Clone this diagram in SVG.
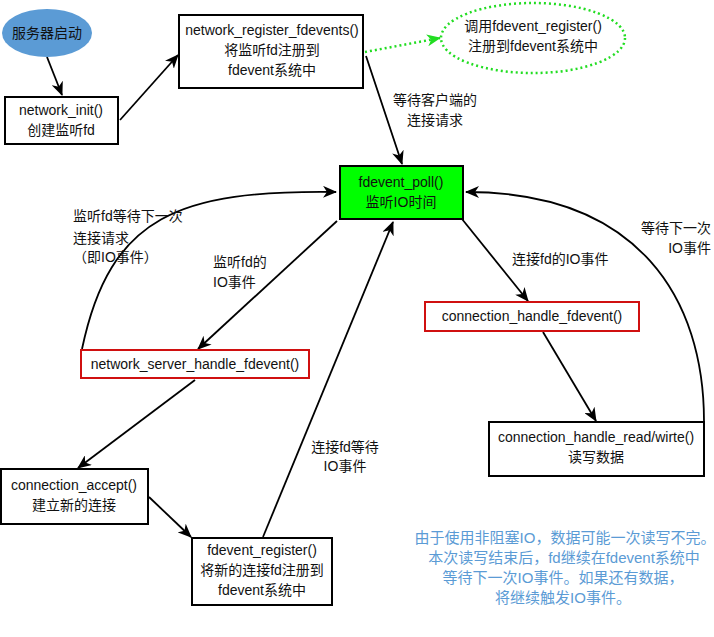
<svg xmlns="http://www.w3.org/2000/svg" width="714" height="637" viewBox="0 0 714 637">
<defs>
<style>
text{font-family:"Liberation Sans","Noto Sans CJK SC",sans-serif;font-size:14px;fill:#111}
.c{text-anchor:middle}
.r{text-anchor:end}
.box{fill:#fff;stroke:#000;stroke-width:2}
.red{fill:#fff;stroke:#d01010;stroke-width:2}
.ln{fill:none;stroke:#000;stroke-width:1.8}
.note{fill:#5b9bd5;font-size:15px}
</style>
<marker id="ah" viewBox="0 0 14 12" refX="13" refY="6" markerWidth="14" markerHeight="12" markerUnits="userSpaceOnUse" orient="auto">
<path d="M0,0 L14,6 L0,12 L4,6 z" fill="#000"/>
</marker>
<marker id="ahg" viewBox="0 0 14 12" refX="13" refY="6" markerWidth="14" markerHeight="12" markerUnits="userSpaceOnUse" orient="auto">
<path d="M0,0 L14,6 L0,12 L4,6 z" fill="#22dd22"/>
</marker>
</defs>
<rect width="714" height="637" fill="#fff"/>

<g id="connectors">
<line class="ln" x1="47" y1="57" x2="62" y2="95" marker-end="url(#ah)"/>
<line class="ln" x1="120" y1="120" x2="178" y2="55" marker-end="url(#ah)"/>
<line x1="365" y1="52" x2="440" y2="38" fill="none" stroke="#22dd22" stroke-width="2.5" stroke-dasharray="2,3" marker-end="url(#ahg)"/>
<line class="ln" x1="366" y1="56" x2="402" y2="164" marker-end="url(#ah)"/>
<line class="ln" x1="337" y1="221" x2="198" y2="349" marker-end="url(#ah)"/>
<path class="ln" d="M82,349 C110,215 180,190 336,192" marker-end="url(#ah)"/>
<line class="ln" x1="195" y1="380" x2="78" y2="468" marker-end="url(#ah)"/>
<line class="ln" x1="149" y1="497" x2="191" y2="537" marker-end="url(#ah)"/>
<line class="ln" x1="263" y1="537" x2="393" y2="222" marker-end="url(#ah)"/>
<line class="ln" x1="462" y1="219" x2="528" y2="301" marker-end="url(#ah)"/>
<line class="ln" x1="543" y1="332" x2="596" y2="421" marker-end="url(#ah)"/>
<path class="ln" d="M704,421 C704,300 640,192 466,192" marker-end="url(#ah)"/>
<text class="c" x="435" y="105">等待客户端的</text>
<text class="c" x="435" y="125">连接请求</text>
<text x="213" y="267">监听fd的</text>
<text x="213" y="287">IO事件</text>
<text x="73" y="221">监听fd等待下一次</text>
<text x="73" y="243">连接请求</text>
<text x="73" y="262">（即IO事件）</text>
<text x="512" y="264">连接fd的IO事件</text>
<text class="c" x="345" y="452">连接fd等待</text>
<text class="c" x="345" y="471">IO事件</text>
<text class="r" x="711" y="233">等待下一次</text>
<text class="r" x="711" y="253">IO事件</text>
</g>

<g id="start">
<ellipse cx="47" cy="33" rx="45" ry="24" fill="#5b9bd5"/>
<text class="c" x="47" y="38">服务器启动</text>
</g>

<g id="network_init">
<rect class="box" x="5" y="97" width="113" height="47"/>
<text class="c" x="61" y="115">network_init()</text>
<text class="c" x="61" y="135">创建监听fd</text>
</g>

<g id="network_register_fdevents">
<rect class="box" x="179" y="15" width="184" height="73"/>
<text class="c" x="272" y="35">network_register_fdevents()</text>
<text class="c" x="272" y="55">将监听fd注册到</text>
<text class="c" x="272" y="75">fdevent系统中</text>
</g>

<g id="call_register">
<ellipse cx="533" cy="38" rx="92" ry="35" fill="#fff" stroke="#22dd22" stroke-width="2.5" stroke-dasharray="2,3"/>
<text class="c" x="533" y="31">调用fdevent_register()</text>
<text class="c" x="533" y="51">注册到fdevent系统中</text>
</g>

<g id="fdevent_poll">
<rect x="340" y="166" width="123" height="53" fill="#00ff00" stroke="#000" stroke-width="2"/>
<text class="c" x="401" y="187">fdevent_poll()</text>
<text class="c" x="401" y="207">监听IO时间</text>
</g>

<g id="network_server_handle_fdevent">
<rect class="red" x="81" y="350" width="228" height="28"/>
<text class="c" x="195" y="369">network_server_handle_fdevent()</text>
</g>

<g id="connection_accept">
<rect class="box" x="1" y="469" width="147" height="55"/>
<text class="c" x="74" y="490">connection_accept()</text>
<text class="c" x="74" y="510">建立新的连接</text>
</g>

<g id="fdevent_register">
<rect class="box" x="192" y="538" width="140" height="67"/>
<text class="c" x="262" y="555">fdevent_register()</text>
<text class="c" x="262" y="575">将新的连接fd注册到</text>
<text class="c" x="262" y="595">fdevent系统中</text>
</g>

<g id="connection_handle_fdevent">
<rect class="red" x="425" y="302" width="214" height="29"/>
<text class="c" x="532" y="321">connection_handle_fdevent()</text>
</g>

<g id="connection_handle_rw">
<rect class="box" x="489" y="422" width="215" height="54"/>
<text class="c" x="596" y="442">connection_handle_read/wirte()</text>
<text class="c" x="596" y="462">读写数据</text>
</g>

<g id="note">
<text class="c note" x="565" y="543">由于使用非阻塞IO，数据可能一次读写不完。</text>
<text class="c note" x="564" y="563">本次读写结束后，fd继续在fdevent系统中</text>
<text class="c note" x="563" y="583">等待下一次IO事件。如果还有数据，</text>
<text class="c note" x="563" y="603">将继续触发IO事件。</text>
</g>
</svg>
